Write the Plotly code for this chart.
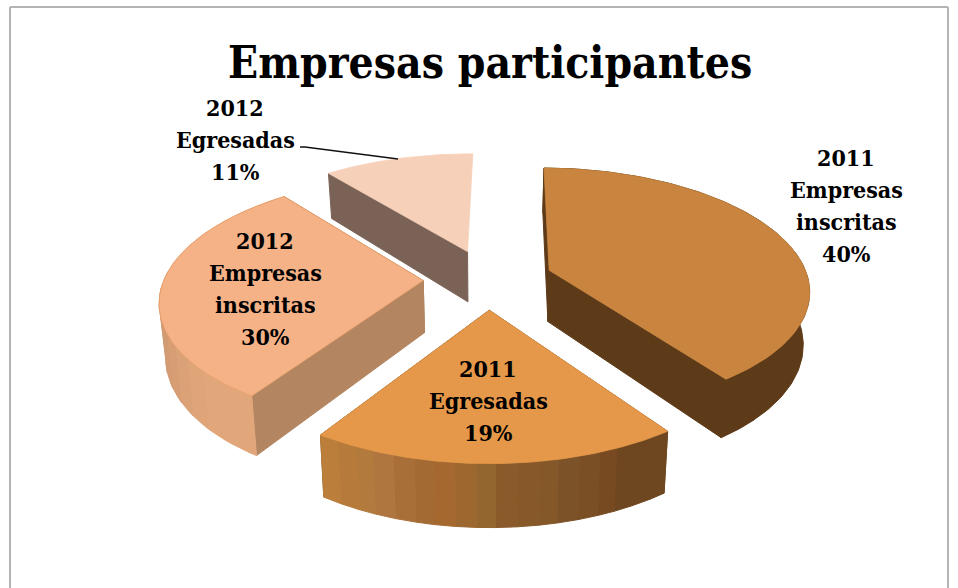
import math
import plotly.graph_objects as go

# --- data ---
years = ["2011", "2011", "2012", "2012"]
groups = ["Empresas inscritas", "Egresadas", "Empresas inscritas", "Egresadas"]
shares = [40, 19, 30, 11]
title_text = "Empresas participantes"

# --- styling ---
top_colors = ["#C9853F", "#E59849", "#F6B287", "#F7D0BA"]
wall_colors = ["#5D3A18", "#7A4E24", "#B38560", "#7A6356"]
rim_bands = [
    ["#5D3A18", "#5D3A18"],
    ["#BB7E3B", "#B67B3B", "#B27A3C", "#AF763F", "#A96F38", "#A36B33", "#A56930", "#9C6830",
     "#94662F", "#8A5A2A", "#875929", "#85582A", "#7C5328", "#7A4F25", "#784A22", "#6E4720", "#6E4720", "#6E4720"],
    ["#D09A72", "#D49C73", "#D79E74", "#DCA277", "#DFA579", "#E1A77B", "#E1A77B", "#E1A77B"],
    [],  # the small slice's rim faces away from the viewer
]
edge_colors = ["#C9853F", "#E59849", "#E8A068", "#F7D0BA"]
draw_order = [3, 2, 0, 1]

# --- projection of a tilted exploded pie ---
CX, CY = 488, 279
AX, BY = 259, 120
PERSP = 0.15
EXPLODE = 0.25
DEPTH = 52
BASE_SHRINK = 0.98
ROTATION = math.radians(0.7)


def project(x, y, lower=False):
    s = 1 / (1 - PERSP * y)
    shrink = BASE_SHRINK if lower else 1
    px = CX + AX * x * s * shrink
    py = CY + BY * y * s + (DEPTH * s if lower else 0)
    return px, py


def unit(angle):
    return math.sin(angle), -math.cos(angle)


fig = go.Figure()
total = sum(shares)
spans = []
start = ROTATION
for v in shares:
    end = start + v / total * 2 * math.pi
    spans.append((start, end))
    start = end


def poly(points, color, line_color=None, name=None, width=1.0):
    xs = [p[0] for p in points] + [points[0][0]]
    ys = [p[1] for p in points] + [points[0][1]]
    fig.add_trace(go.Scatter(
        x=xs, y=ys, mode="lines", fill="toself", fillcolor=color,
        line=dict(color=line_color or color, width=width),
        hoverinfo="text" if name else "skip", text=name, showlegend=False))


for i in draw_order:
    a0, a1 = spans[i]
    mid = (a0 + a1) / 2
    ox, oy = unit(mid)
    ox *= EXPLODE
    oy *= EXPLODE
    steps = 120
    angles = [a0 + (a1 - a0) * k / steps for k in range(steps + 1)]
    rim = [(ox + unit(t)[0], oy + unit(t)[1]) for t in angles]
    apex = (ox, oy)

    # walls: the closing wall of the last slice faces away from the viewer
    walls = [rim[0]] if i == len(shares) - 1 else [rim[0], rim[-1]]
    for edge in walls:
        poly([project(*apex), project(*edge), project(*edge, True), project(*apex, True)], wall_colors[i])
    # outer rim, as vertical colour bands listed left to right on screen
    bands = rim_bands[i]
    if bands:
        order = sorted(range(steps), key=lambda k: project(*rim[k])[0])
        rank = {k: r for r, k in enumerate(order)}
        band_of = [min(len(bands) - 1, rank[k] * len(bands) // steps) for k in range(steps)]
        k = 0
        while k < steps:
            e = k
            while e + 1 < steps and band_of[e + 1] == band_of[k]:
                e += 1
            upper = [project(*rim[q]) for q in range(k, e + 2)]
            lower = [project(*rim[q], True) for q in range(e + 1, k - 1, -1)]
            poly(upper + lower, bands[band_of[k]])
            k = e + 1
    # top face
    top = [project(*apex)] + [project(*p) for p in rim]
    label = f"{years[i]} {groups[i]}: {shares[i]}%"
    poly(top, top_colors[i], edge_colors[i], label, 0.8)

# leader line for the small slice
lead_x = [300, 305, 398]
lead_y = [147, 147, 159]
fig.add_trace(go.Scatter(x=lead_x, y=lead_y, mode="lines", line=dict(color="#111111", width=1.3),
                         hoverinfo="skip", showlegend=False))

FONT = "DejaVu Serif Condensed, DejaVu Serif, serif"
label_centers = [(846, 157), (488, 368), (265, 240), (235, 107)]
LINE_GAP = 32
annotations = [dict(x=490, y=62, text=f"<b>{title_text}</b>", showarrow=False,
                    font=dict(family=FONT, size=44, color="#000000"))]
for i, (lx, ly) in enumerate(label_centers):
    lines = [years[i]] + groups[i].split(" ") + [f"{shares[i]}%"]
    for j, t in enumerate(lines):
        annotations.append(dict(x=lx, y=ly + j * LINE_GAP, text=f"<b>{t}</b>", showarrow=False,
                                font=dict(family=FONT, size=23, color="#000000")))

frame = dict(type="line", line=dict(color="#B4B4B4", width=2), layer="below")
shapes = [
    dict(frame, x0=10, x1=10, y0=7, y1=588),
    dict(frame, x0=10, x1=948, y0=7, y1=7),
    dict(frame, x0=948, x1=948, y0=7, y1=588),
]

fig.update_layout(
    width=958, height=588, margin=dict(l=0, r=0, t=0, b=0),
    paper_bgcolor="white", plot_bgcolor="white", showlegend=False,
    xaxis=dict(range=[0, 958], visible=False, fixedrange=True),
    yaxis=dict(range=[588, 0], visible=False, fixedrange=True),
    annotations=annotations, shapes=shapes,
)
fig.write_html("out.html", post_script="document.body.style.margin='0';",
               config={"displayModeBar": False})
